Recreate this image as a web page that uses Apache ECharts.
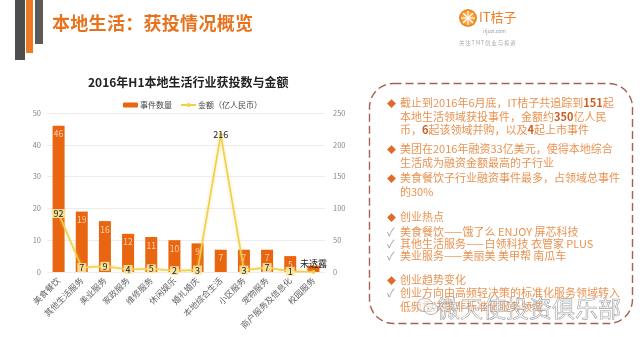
<!DOCTYPE html>
<html>
<head>
<meta charset="utf-8">
<script src="https://cdn.jsdelivr.net/npm/echarts@6/dist/echarts.min.js"></script>
<style>
  html, body { margin: 0; padding: 0; background: #fff; }
  #slide { position: relative; width: 640px; height: 337px; overflow: hidden; background: #fff;
           font-family: "Noto Sans CJK SC", "Noto Sans", sans-serif; }
  #chart { position: absolute; left: 0; top: 0; width: 640px; height: 337px; }
  .deco { position: absolute; }
  .heading { position: absolute; left: 52px; top: 9px; font-size: 18px; font-weight: bold; color: #E8731E;
             line-height: 26px; white-space: nowrap; letter-spacing: 0.3px; }
  .note { position: absolute; left: 387px; width: 240px; font-size: 11px; color: #EA9250; white-space: nowrap; }
  .note p { margin: 0; padding-left: 13px; text-indent: -13px; line-height: 13px; }
  .note b { color: #CC5E22; }
  .dia { color: #E06A2A; font-size: 9px; display: inline-block; width: 13px; text-indent: 0; }
  .chk { color: #a0a0a0; display: inline-block; width: 13px; text-indent: 0; }
  .mark { position: absolute; left: 437px; top: 292px; font-size: 23px; color: rgba(255,255,255,0.45);
          -webkit-text-stroke: 0.6px #a2a2a2; white-space: nowrap; line-height: 30px; }
</style>
</head>
<body>
<div id="slide">
  <div id="chart"></div>

  <!-- header decoration bars -->
  <div class="deco" style="left:15px;top:0;width:10px;height:60px;background:#4d4d4d"></div>
  <div class="deco" style="left:26px;top:0;width:7px;height:53px;background:#EE7A22"></div>
  <div class="deco" style="left:35px;top:0;width:8px;height:44px;background:#5a5a5a"></div>
  <div class="heading">本地生活：获投情况概览</div>

  <!-- brand logo -->
  <svg class="deco" style="left:458px;top:8px" width="20" height="20" viewBox="0 0 20 20">
    <circle cx="10" cy="10" r="9" fill="#F08A24"/>
    <circle cx="10" cy="10" r="6.8" fill="#F7A640"/>
    <g stroke="#fff" stroke-width="1.2">
      <line x1="10" y1="3" x2="10" y2="17"/>
      <line x1="3" y1="10" x2="17" y2="10"/>
      <line x1="5" y1="5" x2="15" y2="15"/>
      <line x1="15" y1="5" x2="5" y2="15"/>
    </g>
  </svg>
  <div class="deco" style="left:479px;top:8px;font-size:13px;line-height:18px;color:#EE7F22;font-family:'Noto Sans CJK SC'">IT桔子</div>
  <div class="deco" style="left:483px;top:27px;font-size:5px;line-height:7px;color:#999">itjuzi.com</div>
  <div class="deco" style="left:459px;top:39px;font-size:5.5px;line-height:8px;color:#aaa;letter-spacing:0.8px">关注TMT创业与投资</div>

  <!-- dashed summary box -->
  <svg class="deco" style="left:0;top:0" width="640" height="337">
    <rect x="369.5" y="83.5" width="263" height="240" rx="24" ry="24" fill="none"
          stroke="#A8604F" stroke-width="1.4" stroke-dasharray="8 4"/>
  </svg>

  <div class="note" style="top:96px">
    <p><span class="dia">◆</span>截止到2016年6月底，IT桔子共追踪到<b>151</b>起<br>本地生活领域获投事件，金额约<b>350</b>亿人民<br>币，<b>6</b>起该领域并购，以及<b>4</b>起上市事件</p>
  </div>
  <div class="note" style="top:142px">
    <p><span class="dia">◆</span>美团在2016年融资33亿美元，使得本地综合<br>生活成为融资金额最高的子行业</p>
  </div>
  <div class="note" style="top:171px">
    <p><span class="dia">◆</span>美食餐饮子行业融资事件最多，占领域总事件<br>的30%</p>
  </div>
  <div class="note" style="top:210px">
    <p><span class="dia">◆</span>创业热点</p>
  </div>
  <div class="note" style="top:225px">
    <p style="line-height:12px"><span class="chk">✓</span>美食餐饮——饿了么 ENJOY 屏芯科技</p>
    <p style="line-height:12px"><span class="chk">✓</span>其他生活服务——白领科技 衣管家 PLUS</p>
    <p style="line-height:12px"><span class="chk">✓</span>美业服务——美丽美 美甲帮 南瓜车</p>
  </div>
  <div class="note" style="top:273px">
    <p><span class="dia">◆</span>创业趋势变化</p>
  </div>
  <div class="note" style="top:286px">
    <p style="line-height:13.5px"><span class="chk">✓</span>创业方向由高频轻决策的标准化服务领域转入<br>低频重决策非标准化服务领域</p>
  </div>

  <!-- channel watermark -->
  <svg class="deco" style="left:416px;top:296px" width="24" height="22" viewBox="0 0 24 22">
    <ellipse cx="9" cy="9" rx="8" ry="6.5" fill="rgba(255,255,255,0.5)" stroke="#a2a2a2" stroke-width="0.8"/>
    <ellipse cx="15" cy="13" rx="7" ry="5.5" fill="rgba(255,255,255,0.5)" stroke="#a2a2a2" stroke-width="0.8"/>
    <circle cx="12.5" cy="12.5" r="0.8" fill="#a2a2a2"/>
    <circle cx="17" cy="12.5" r="0.8" fill="#a2a2a2"/>
  </svg>
  <div class="mark">微天使投资俱乐部</div>
</div>

<script>
// Sub-sectors of the local-life industry, H1 2016
const categories = ['美食餐饮', '其他生活服务', '美业服务', '家政服务', '维修服务', '休闲娱乐',
                    '婚礼婚庆', '本地综合生活', '小区服务', '宠物服务', '商户服务及信息化', '校园服务'];
// Number of funding events per sub-sector
const eventCounts = [46, 19, 16, 12, 11, 10, 9, 7, 7, 7, 5, 2];
// Funding amount (100 million RMB); the last one was not disclosed
const amounts = [92, 7, 9, 4, 5, 2, 3, 216, 3, 7, 1, 0];
const undisclosedIndex = 11;
// Axis ticks
const countTicks = [0, 10, 20, 30, 40, 50];
const amountTicks = [0, 50, 100, 150, 200, 250];

const chart = echarts.init(document.getElementById('chart'), null, { renderer: 'canvas' });

const lineData = amounts.map((v, i) => {
  if (i === undisclosedIndex) {
    return { value: v, label: { formatter: '未透露', position: 'top', distance: 2,
             backgroundColor: 'transparent', color: '#222', fontSize: 9 } };
  }
  if (v > 100) {
    return { value: v, label: { backgroundColor: 'transparent' } };
  }
  return v;
});

const barData = eventCounts.map((v, i) =>
  v < 4 ? { value: v, label: { show: false } } : v);

chart.setOption({
  animation: false,
  textStyle: { fontFamily: '"Noto Sans CJK SC", "Noto Sans", sans-serif' },
  title: {
    text: '2016年H1本地生活行业获投数与金额',
    left: 83, top: 71,
    textStyle: { fontSize: 12, fontWeight: 'bold', color: '#222' }
  },
  legend: {
    left: 118, top: 96,
    itemWidth: 15, itemHeight: 5, itemGap: 8,
    textStyle: { fontSize: 8, color: '#444', padding: [0, 0, 0, -3] },
    data: [
      { name: '事件数量', icon: 'roundRect' },
      { name: '金额（亿人民币）' }
    ]
  },
  grid: { left: 47, right: 315, top: 113, bottom: 65, containLabel: false },
  xAxis: {
    type: 'category',
    data: categories,
    axisLine: { show: false },
    axisTick: { show: false },
    axisLabel: { interval: 0, rotate: 45, fontSize: 8.5, color: '#666', margin: 7 }
  },
  yAxis: [
    {
      type: 'value', min: countTicks[0], max: countTicks[countTicks.length - 1], interval: 10,
      axisLine: { show: false }, axisTick: { show: false },
      axisLabel: { fontSize: 7.5, color: '#888', margin: 6 },
      splitLine: { lineStyle: { color: '#ececec', width: 1 } }
    },
    {
      type: 'value', min: amountTicks[0], max: amountTicks[amountTicks.length - 1], interval: 50,
      axisLine: { show: false }, axisTick: { show: false },
      axisLabel: { fontSize: 7.5, color: '#888', margin: 8 },
      splitLine: { show: false }
    }
  ],
  series: [
    {
      name: '事件数量',
      type: 'bar',
      yAxisIndex: 0,
      barWidth: 12,
      data: barData,
      itemStyle: { color: '#E9650F' },
      label: { show: true, position: 'insideTop', distance: 4, fontSize: 8.5, color: '#FBD3B4' },
      z: 2
    },
    {
      name: '金额（亿人民币）',
      type: 'line',
      yAxisIndex: 1,
      data: lineData,
      symbol: 'circle',
      symbolSize: 4,
      itemStyle: { color: '#F3D04A' },
      lineStyle: { color: '#F1CF47', width: 1.6, shadowColor: 'rgba(245,210,80,0.7)', shadowBlur: 3 },
      label: {
        show: true, position: 'inside', fontSize: 9, color: '#222',
        backgroundColor: 'rgba(250,230,160,0.9)', padding: [0, 2]
      },
      z: 3
    }
  ]
});
</script>
</body>
</html>
